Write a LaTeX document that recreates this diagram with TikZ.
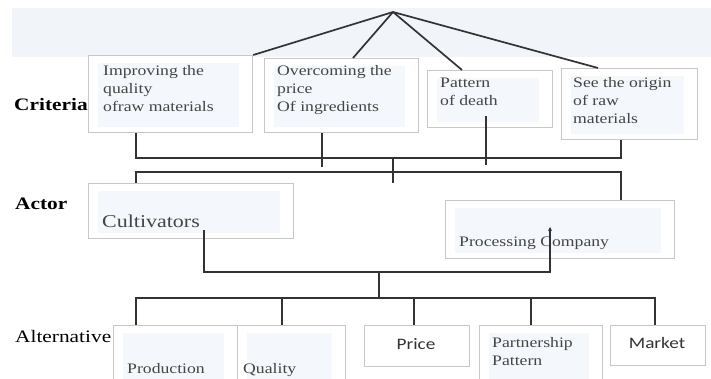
\documentclass[tikz,border=0pt]{standalone}
\usepackage{fontspec}
\setmainfont{Liberation Serif}[FakeStretch=1.22]
\newfontfamily\calibfont{Carlito}[FakeStretch=1.2]
\usetikzlibrary{arrows.meta}
\definecolor{bandblue}{HTML}{F1F5FA}
\definecolor{innerblue}{HTML}{F4F7FB}
\definecolor{boxgray}{HTML}{C8C8C8}
\definecolor{wiregray}{HTML}{333333}
\definecolor{txtgray}{HTML}{454545}

\begin{document}
\begin{tikzpicture}[x=1pt, y=-1pt,
  plainbox/.style={draw=boxgray, line width=1.2pt, fill=white, inner sep=0pt, anchor=north west},
  box/.style={plainbox,
    path picture={\fill[innerblue] ([shift={(9pt,-7pt)}]path picture bounding box.north west)
      rectangle ([shift={(-14pt,6pt)}]path picture bounding box.south east);}},
  boxtext/.style={anchor=north west, inner sep=0pt, align=left, text=txtgray,
    font=\fontsize{14.5}{18}\selectfont},
  onetext/.style={anchor=base west, inner sep=0pt, text=txtgray, font=\fontsize{14.5}{18}\selectfont},
  sanstext/.style={inner sep=0pt, text=wiregray, font=\calibfont\fontsize{16}{18}\selectfont},
  level/.style={anchor=base west, inner sep=0pt, text=black, font=\fontsize{17.5}{20}\selectfont},
  wire/.style={draw=wiregray, line width=1.7pt}]
\useasboundingbox (0,0) rectangle (711,379);
\clip (0,0) rectangle (711,379);

\fill[bandblue] (12,8) rectangle (711,57);

% criteria
\node[box, minimum width=164pt, minimum height=77pt] (improve) at (88,55) {};
\node[box, minimum width=154pt, minimum height=74pt] (overcome) at (264,58) {};
\node[box, minimum width=125pt, minimum height=57pt] (pattern) at (427,70) {};
\node[box, minimum width=136pt, minimum height=71pt] (origin) at (561,68) {};
\node[boxtext] (improvetxt) at (103,65) {Improving the\\quality\\ofraw materials};
\node[boxtext] (overcometxt) at (277,65) {Overcoming the\\price\\Of ingredients};
\node[boxtext] (patterntxt) at (440,78) {Pattern\\of death};
\node[boxtext] (origintxt) at (573,77) {See the origin\\of raw\\materials};
\node[level, font=\bfseries\fontsize{17.5}{20}\selectfont] (criteria) at (14,111) {Criteria};

% actor
\node[box, minimum width=205pt, minimum height=55pt] (cultivators) at (88,183) {};
\node[box, minimum width=229pt, minimum height=58pt] (processing) at (445,200) {};
\node[onetext, font=\fontsize{18}{20}\selectfont] (cultitxt) at (102,227) {Cultivators};
\node[onetext] (processtxt) at (459,246) {Processing Company};
\node[level, font=\bfseries\fontsize{17.5}{20}\selectfont] (actor) at (15,210) {Actor};

% alternative
\node[box, minimum width=124pt, minimum height=65pt] (production) at (113,325) {};
\node[box, minimum width=108pt, minimum height=65pt] (quality) at (237,325) {};
\node[plainbox, minimum width=105pt, minimum height=41pt] (price) at (364,325) {};
\node[box, minimum width=123pt, minimum height=65pt] (partnership) at (479,325) {};
\node[plainbox, minimum width=95pt, minimum height=40pt] (market) at (610,325) {};
\node[onetext] (productiontxt) at (127,373) {Production};
\node[onetext] (qualitytxt) at (243,373) {Quality};
\node[sanstext] (pricetxt) at (416,344) {Price};
\node[boxtext] (partnershiptxt) at (492,337) {Partnership\\Pattern};
\node[sanstext] (markettxt) at (657,343) {Market};
\node[level] (alternative) at (15,342) {Alternative};

% goal lines
\coordinate (apex) at (393,12);
\draw[wire] (apex) -- (improve.north east);
\draw[wire] (apex) -- ([xshift=89pt]overcome.north west);
\draw[wire] (apex) -- ([xshift=35pt]pattern.north west);
\draw[wire] (apex) -- ([xshift=37pt]origin.north west);

% criteria to actor
\draw[wire] ([xshift=48pt]improve.south west) -- ++(0,25) -| ([xshift=60pt]origin.south west);
\draw[wire] ([xshift=58pt]overcome.south west) -- ++(0,34);
\draw[wire] ([xshift=59pt,yshift=12pt]pattern.south west) -- ++(0,49);
\draw[wire] ([xshift=48pt]cultivators.north west) -- ++(0,-11) -| ([xshift=176pt]processing.north west);
\draw[wire] (apex |- cultivators.north) -- ++(0,-26);

% actor to alternative
\coordinate (cultifoot) at (204,230);
\coordinate (actbus) at (379,272);
\coordinate (procin) at (550,227);
\draw[wire, -{Stealth[length=4pt,width=4pt]}] (cultifoot) |- (actbus) -| (procin);
\draw[wire] (actbus) -- ++(0,26);
\draw[wire] ([xshift=23pt]production.north west) -- ++(0,-27) -| ([xshift=45pt]market.north west);
\draw[wire] ([xshift=45pt]quality.north west) -- ++(0,-27);
\draw[wire] ([xshift=50pt]price.north west) -- ++(0,-27);
\draw[wire] ([xshift=52pt]partnership.north west) -- ++(0,-27);
\end{tikzpicture}
\end{document}
